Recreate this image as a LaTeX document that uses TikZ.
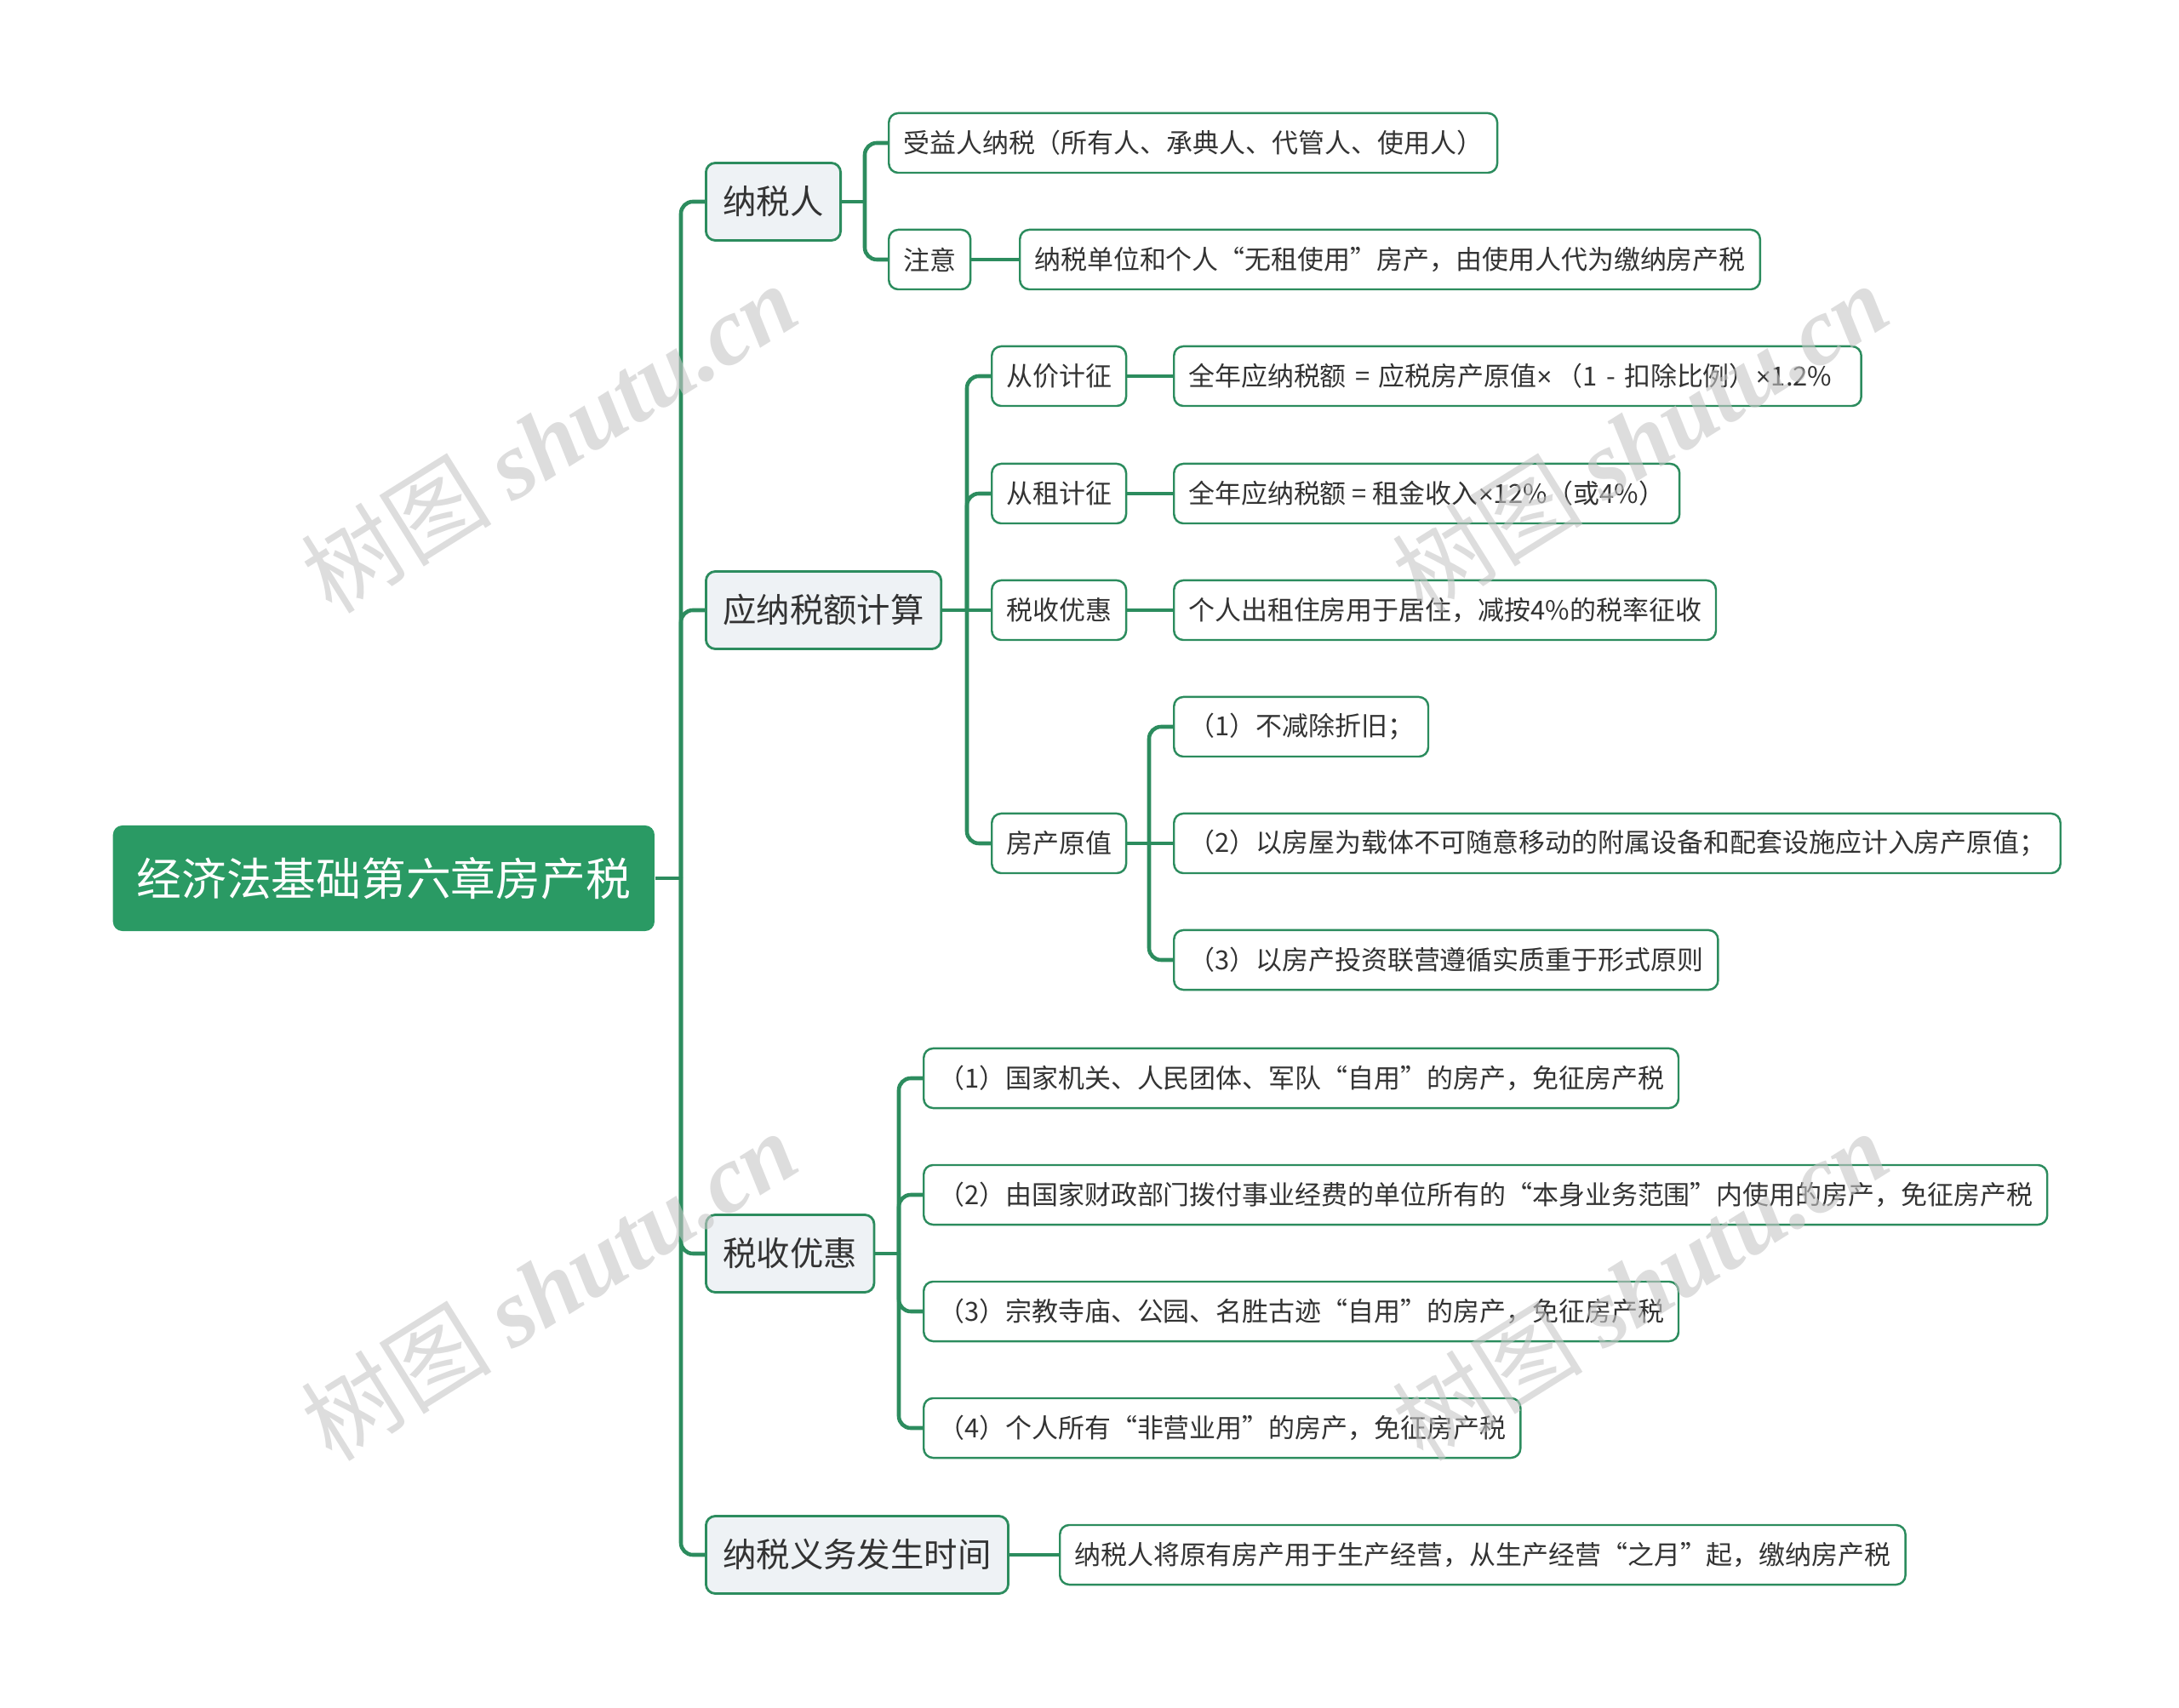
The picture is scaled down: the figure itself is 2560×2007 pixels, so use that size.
\documentclass[tikz,border=0pt]{standalone}
\usepackage{fontspec}
\setmainfont{Noto Sans CJK SC}
\newfontfamily\wmlatin{Liberation Serif}
\newfontfamily\symfont{Liberation Sans}
\usetikzlibrary{positioning}
\definecolor{mapgreen}{HTML}{2A9A64}
\definecolor{linegreen}{HTML}{2C8C5E}
\definecolor{subfill}{HTML}{EEF2F5}
\definecolor{txtgray}{HTML}{333333}
\newcommand{\tm}{{\symfont ×}}
\tikzset{
  rootbox/.style={rectangle, rounded corners=0.11cm, fill=mapgreen, text=white,
    font=\fontsize{15}{18}\selectfont, minimum height=1.24cm, inner xsep=0.28cm, anchor=west},
  topicbox/.style={rectangle, rounded corners=0.11cm, draw=linegreen, line width=0.8pt,
    fill=subfill, text=txtgray, font=\fontsize{11.2}{13}\selectfont,
    minimum height=0.91cm, inner xsep=0.2cm, anchor=west},
  leafbox/.style={rectangle, rounded corners=0.11cm, draw=linegreen, line width=0.7pt,
    fill=white, text=txtgray, font=\fontsize{8.8}{10}\selectfont,
    minimum height=0.70cm, inner xsep=0.17cm, anchor=west},
  branch/.style={draw=linegreen, line width=1.3pt},
  elbow/.style={branch, rounded corners=0.14cm},
  watermark/.style={text=black!22, opacity=0.6, rotate=32,
    font=\fontsize{32}{34}\selectfont}
}
\begin{document}
\begin{tikzpicture}[x=0.01cm, y=-0.01cm]
\useasboundingbox (0,0) rectangle (2560,2007);

% root and first level
\node[rootbox] (root) at (132,1032) {经济法基础第六章房产税};
\node[topicbox] (payer) at (828,237) {纳税人};
\node[topicbox] (calc) at (828,717) {应纳税额计算};
\node[topicbox] (relief) at (828,1473) {税收优惠};
\node[topicbox] (when) at (828,1827) {纳税义务发生时间};

% 纳税人
\node[leafbox] (payerA) at (1043,168) {受益人纳税（所有人、承典人、代管人、使用人）};
\node[leafbox] (note) at (1043,305) {注意};
\node[leafbox] (noteA) at (1197,305) {纳税单位和个人“无租使用”房产，由使用人代为缴纳房产税};

% 应纳税额计算
\node[leafbox] (byvalue) at (1164,442) {从价计征};
\node[leafbox, text width=7.73cm, align=left] (byvalueA) at (1378,442) {全年应纳税额 = 应税房产原值\tm\,（1 - 扣除比例）\tm1.2\%};
\node[leafbox] (byrent) at (1164,580) {从租计征};
\node[leafbox] (byrentA) at (1378,580) {全年应纳税额 = 租金收入\tm12\%（或4\%）};
\node[leafbox] (cut) at (1164,717) {税收优惠};
\node[leafbox] (cutA) at (1378,717) {个人出租住房用于居住，减按4\%的税率征收};
\node[leafbox] (orig) at (1164,991) {房产原值};
\node[leafbox] (origA) at (1378,854) {（1）不减除折旧；};
\node[leafbox] (origB) at (1378,991) {（2）以房屋为载体不可随意移动的附属设备和配套设施应计入房产原值；};
\node[leafbox] (origC) at (1378,1128) {（3）以房产投资联营遵循实质重于形式原则};

% 税收优惠
\node[leafbox] (freeA) at (1084,1267) {（1）国家机关、人民团体、军队“自用”的房产，免征房产税};
\node[leafbox] (freeB) at (1084,1404) {（2）由国家财政部门拨付事业经费的单位所有的“本身业务范围”内使用的房产，免征房产税};
\node[leafbox] (freeC) at (1084,1541) {（3）宗教寺庙、公园、名胜古迹“自用”的房产，免征房产税};
\node[leafbox] (freeD) at (1084,1678) {（4）个人所有“非营业用”的房产，免征房产税};

% 纳税义务发生时间
\node[leafbox] (whenA) at (1244,1827) {纳税人将原有房产用于生产经营，从生产经营“之月”起，缴纳房产税};

% connectors
\coordinate (rootbus) at (800,1032);
\coordinate (payerbus) at (1016,237);
\coordinate (calcbus) at (1136,717);
\coordinate (origbus) at (1350,991);
\coordinate (reliefbus) at (1056,1473);

\draw[branch] (root.east) -- (rootbus);
\foreach \t in {payer,calc,relief,when}
  \draw[elbow] (rootbus) |- (\t.west);

\draw[branch] (payer.east) -- (payerbus);
\foreach \t in {payerA,note}
  \draw[elbow] (payerbus) |- (\t.west);
\draw[branch] (note.east) -- (noteA.west);

\draw[branch] (calc.east) -- (calcbus);
\foreach \t in {byvalue,byrent,orig}
  \draw[elbow] (calcbus) |- (\t.west);
\draw[branch] (calcbus) -- (cut.west);
\draw[branch] (byvalue.east) -- (byvalueA.west);
\draw[branch] (byrent.east) -- (byrentA.west);
\draw[branch] (cut.east) -- (cutA.west);

\draw[branch] (orig.east) -- (origbus);
\foreach \t in {origA,origC}
  \draw[elbow] (origbus) |- (\t.west);
\draw[branch] (origbus) -- (origB.west);

\draw[branch] (relief.east) -- (reliefbus);
\foreach \t in {freeA,freeB,freeC,freeD}
  \draw[elbow] (reliefbus) |- (\t.west);

\draw[branch] (when.east) -- (whenA.west);

% watermarks
\foreach \wx/\wy [count=\i] in {645/514,1927/514,645/1510,1927/1510}
  \node[watermark] (mark\i) at (\wx,\wy) {树图 {\wmlatin\itshape\bfseries shutu.cn}};
\end{tikzpicture}
\end{document}
